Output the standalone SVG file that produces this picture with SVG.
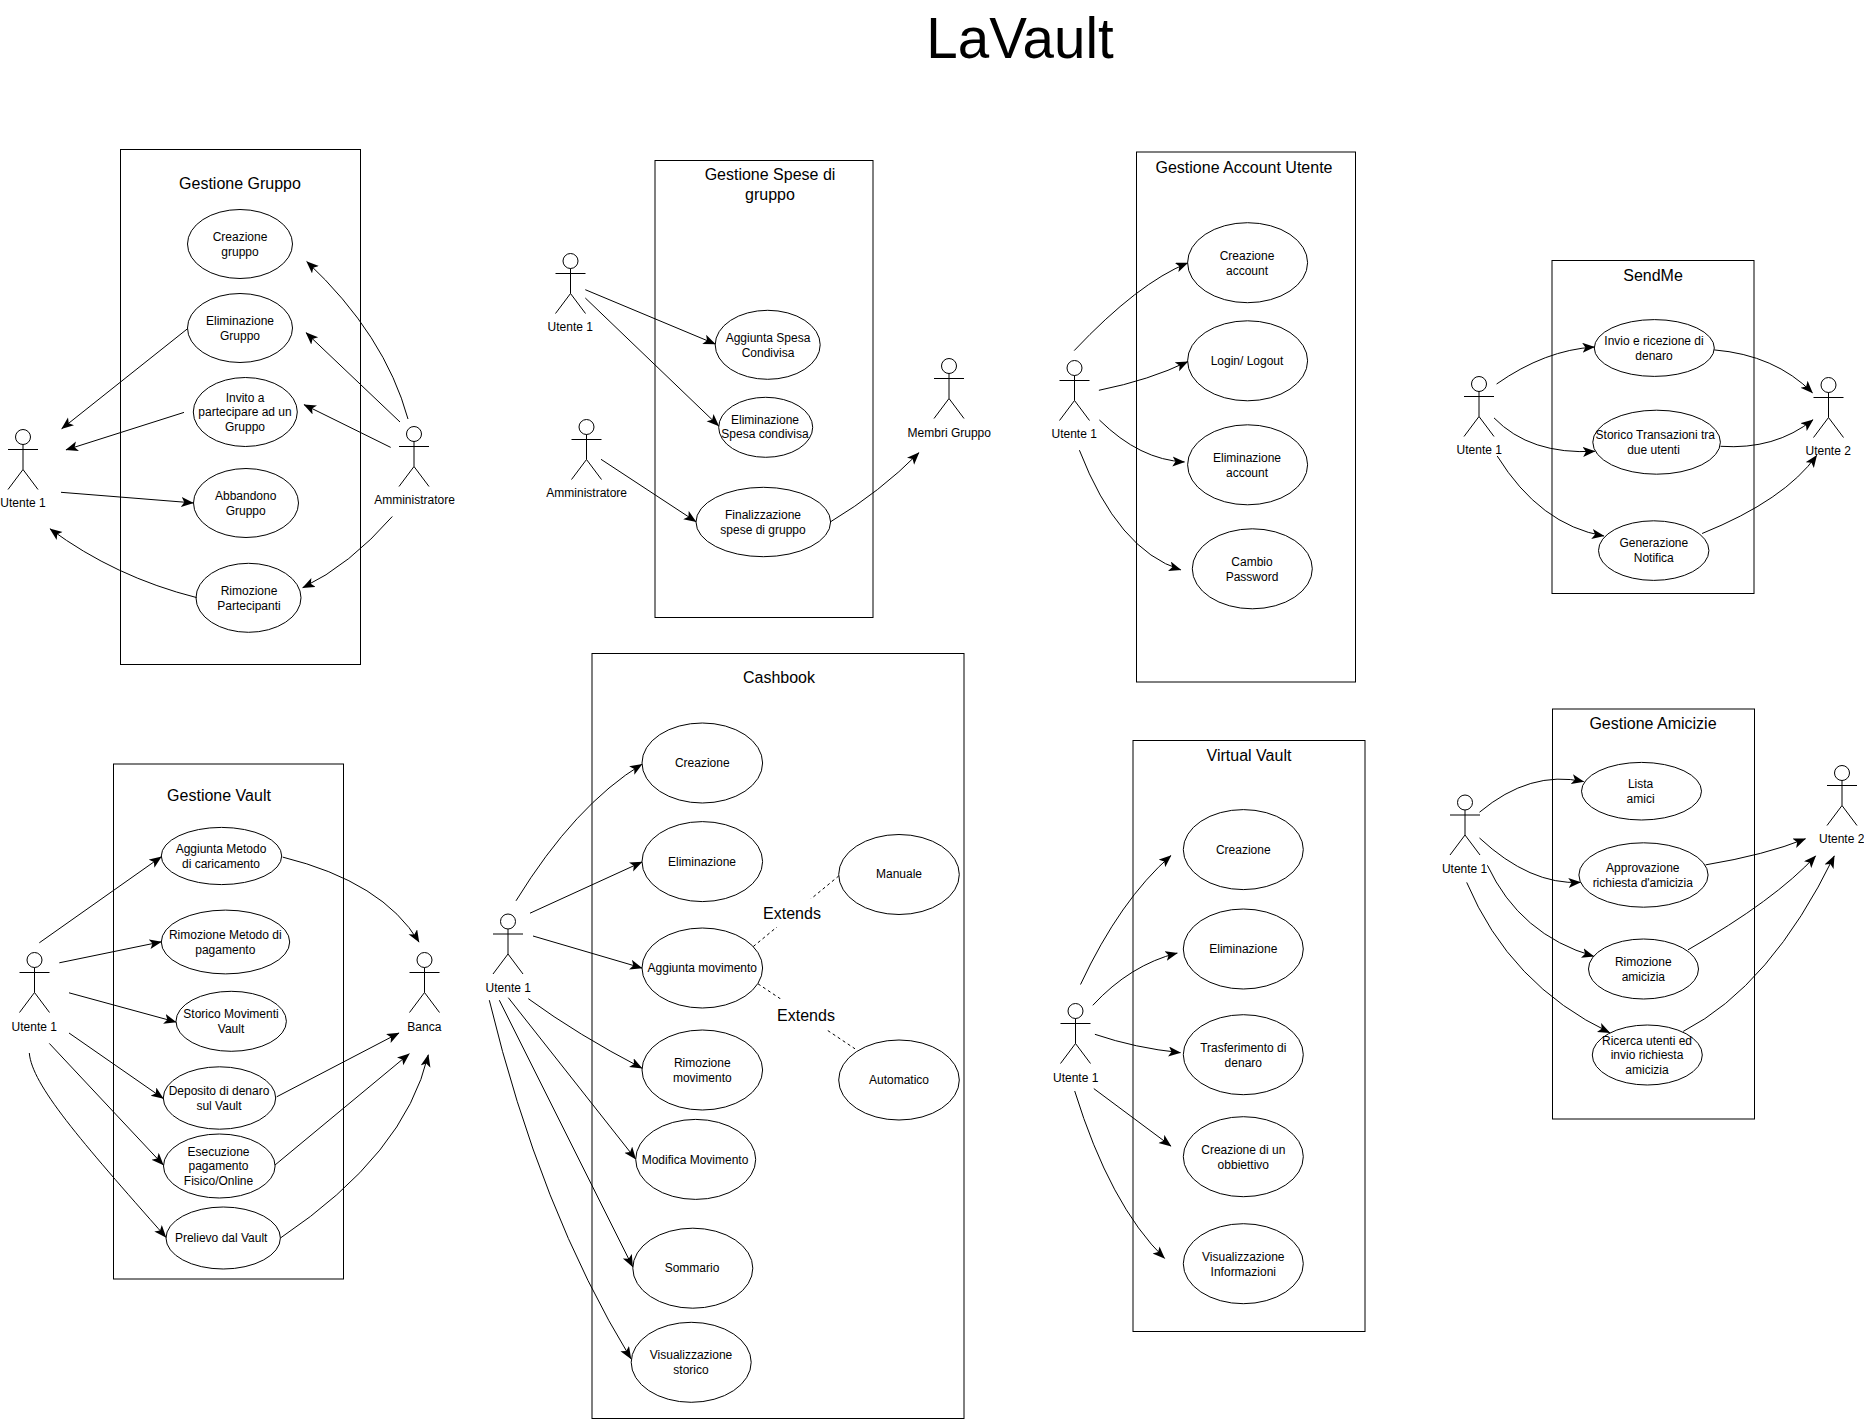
<svg xmlns="http://www.w3.org/2000/svg" width="1864" height="1419" viewBox="0 0 1864 1419">
<style>
text{font-family:"Liberation Sans",Arial,sans-serif;fill:#000;text-anchor:middle}
.t{font-size:12px}.h{font-size:16px}.big{font-size:56.5px}
.b,.u{fill:#fff;stroke:#000;stroke-width:1}
.c,.d{fill:none;stroke:#000;stroke-width:1}
.c{marker-end:url(#arrow)}.d{stroke-dasharray:3 3}
.a{fill:none;stroke:#000;stroke-width:1}
</style>
<defs>
<marker id="arrow" markerUnits="userSpaceOnUse" markerWidth="14" markerHeight="11" refX="12" refY="5" orient="auto"><path d="M0,0L12.5,5L0,10L3,5Z" fill="#000"/></marker>
<g id="actor"><ellipse class="a" cx="15" cy="7.5" rx="7.5" ry="7.5"/><path class="a" d="M15,15V40M0,20H30M0,60L15,40L30,60"/></g>
</defs>
<rect width="1864" height="1419" fill="#fff"/>
<text id="title" class="big" x="1020" y="58">LaVault</text>

<g id="boundaries">
<g id="b-gruppo"><rect class="b" x="120.5" y="149.5" width="240" height="515"/><text class="h" x="240" y="189">Gestione Gruppo</text></g>
<g id="b-spese"><rect class="b" x="655" y="160.5" width="218" height="457"/><text class="h" x="770" y="179.5">Gestione Spese di<tspan x="770" y="199.5">gruppo</tspan></text></g>
<g id="b-account"><rect class="b" x="1136.5" y="152" width="219" height="530"/><text class="h" x="1244" y="173">Gestione Account Utente</text></g>
<g id="b-sendme"><rect class="b" x="1552" y="260.5" width="202" height="333"/><text class="h" x="1653" y="281">SendMe</text></g>
<g id="b-vault"><rect class="b" x="113.5" y="764" width="230" height="515"/><text class="h" x="219" y="801">Gestione Vault</text></g>
<g id="b-cashbook"><rect class="b" x="592" y="653.5" width="372" height="765"/><text class="h" x="779" y="683">Cashbook</text></g>
<g id="b-virtual"><rect class="b" x="1133" y="740.5" width="232" height="591"/><text class="h" x="1249" y="761">Virtual Vault</text></g>
<g id="b-amicizie"><rect class="b" x="1552.5" y="709" width="202" height="410"/><text class="h" x="1653" y="729">Gestione Amicizie</text></g>
</g>

<g id="usecases">
<g id="uc-creazione-gruppo"><ellipse class="u" cx="240" cy="244" rx="52.5" ry="34.5"/><text class="t" x="240" y="240.5">Creazione<tspan x="240" y="255.5">gruppo</tspan></text></g>
<g id="uc-eliminazione-gruppo"><ellipse class="u" cx="240" cy="328" rx="52.5" ry="34.5"/><text class="t" x="240" y="325">Eliminazione<tspan x="240" y="339.8">Gruppo</tspan></text></g>
<g id="uc-invito"><ellipse class="u" cx="245.3" cy="412" rx="52" ry="34.5"/><text class="t" x="245" y="402">Invito a<tspan x="245" y="416">partecipare ad un</tspan><tspan x="245" y="431">Gruppo</tspan></text></g>
<g id="uc-abbandono"><ellipse class="u" cx="246" cy="503" rx="52.5" ry="34.5"/><text class="t" x="245.7" y="499.8">Abbandono<tspan x="245.7" y="514.6">Gruppo</tspan></text></g>
<g id="uc-rimozione-part"><ellipse class="u" cx="248.5" cy="597.8" rx="52.5" ry="34.5"/><text class="t" x="249" y="594.8">Rimozione<tspan x="249" y="609.6">Partecipanti</tspan></text></g>

<g id="uc-aggiunta-spesa"><ellipse class="u" cx="767.7" cy="344.8" rx="52.5" ry="34.5"/><text class="t" x="768" y="342">Aggiunta Spesa<tspan x="768" y="356.8">Condivisa</tspan></text></g>
<g id="uc-elim-spesa"><ellipse class="u" cx="765.7" cy="427.3" rx="47" ry="30"/><text class="t" x="765" y="423.6">Eliminazione<tspan x="765" y="438.4">Spesa condivisa</tspan></text></g>
<g id="uc-finalizzazione"><ellipse class="u" cx="763.3" cy="522" rx="67.3" ry="34.7"/><text class="t" x="763" y="519.3">Finalizzazione<tspan x="763" y="533.8">spese di gruppo</tspan></text></g>

<g id="uc-creazione-account"><ellipse class="u" cx="1247.6" cy="262.7" rx="60" ry="40"/><text class="t" x="1247" y="260.4">Creazione<tspan x="1247" y="275.2">account</tspan></text></g>
<g id="uc-login"><ellipse class="u" cx="1247.6" cy="360.8" rx="60" ry="40"/><text class="t" x="1247" y="365">Login/ Logout</text></g>
<g id="uc-elim-account"><ellipse class="u" cx="1247.6" cy="464.8" rx="60" ry="40"/><text class="t" x="1247" y="462.2">Eliminazione<tspan x="1247" y="477">account</tspan></text></g>
<g id="uc-cambio"><ellipse class="u" cx="1252.3" cy="568.8" rx="60" ry="40"/><text class="t" x="1252" y="566">Cambio<tspan x="1252" y="580.8">Password</tspan></text></g>

<g id="uc-invio"><ellipse class="u" cx="1654.3" cy="348" rx="60" ry="28.4"/><text class="t" x="1654" y="345">Invio e ricezione di<tspan x="1654" y="359.8">denaro</tspan></text></g>
<g id="uc-storico-tr"><ellipse class="u" cx="1656.6" cy="442.2" rx="63.8" ry="32"/><text class="t" x="1655.3" y="439">Storico Transazioni tra<tspan x="1653.5" y="453.8">due utenti</tspan></text></g>
<g id="uc-generazione"><ellipse class="u" cx="1653.7" cy="550.6" rx="55.2" ry="29.8"/><text class="t" x="1653.8" y="547">Generazione<tspan x="1653.8" y="561.8">Notifica</tspan></text></g>

<g id="uc-aggiunta-metodo"><ellipse class="u" cx="221.5" cy="856" rx="60.2" ry="28.6"/><text class="t" x="221" y="853">Aggiunta Metodo<tspan x="221" y="867.8">di caricamento</tspan></text></g>
<g id="uc-rimozione-metodo"><ellipse class="u" cx="225.5" cy="942" rx="64.2" ry="31.9"/><text class="t" x="225.3" y="939">Rimozione Metodo di<tspan x="225.3" y="953.8">pagamento</tspan></text></g>
<g id="uc-storico-mov"><ellipse class="u" cx="231.2" cy="1021.3" rx="55.2" ry="30"/><text class="t" x="231" y="1018">Storico Movimenti<tspan x="231" y="1032.8">Vault</tspan></text></g>
<g id="uc-deposito"><ellipse class="u" cx="219.5" cy="1098" rx="56.2" ry="31.2"/><text class="t" x="219" y="1095">Deposito di denaro<tspan x="219" y="1109.8">sul Vault</tspan></text></g>
<g id="uc-esecuzione"><ellipse class="u" cx="219.3" cy="1166" rx="55.8" ry="32"/><text class="t" x="218.5" y="1156">Esecuzione<tspan x="218.5" y="1170">pagamento</tspan><tspan x="218.5" y="1185">Fisico/Online</tspan></text></g>
<g id="uc-prelievo"><ellipse class="u" cx="223.2" cy="1238" rx="57.2" ry="31"/><text class="t" x="221.2" y="1242">Prelievo dal Vault</text></g>

<g id="uc-cb-creazione"><ellipse class="u" cx="702.3" cy="763" rx="60.3" ry="40"/><text class="t" x="702.3" y="767">Creazione</text></g>
<g id="uc-cb-eliminazione"><ellipse class="u" cx="702.3" cy="861.6" rx="60.3" ry="40"/><text class="t" x="702" y="866">Eliminazione</text></g>
<g id="uc-cb-aggiunta"><ellipse class="u" cx="702.3" cy="968" rx="60.3" ry="40"/><text class="t" x="702.3" y="972.3">Aggiunta movimento</text></g>
<g id="uc-cb-rimozione"><ellipse class="u" cx="702.3" cy="1070" rx="60.3" ry="40"/><text class="t" x="702.3" y="1066.5">Rimozione<tspan x="702.3" y="1081.5">movimento</tspan></text></g>
<g id="uc-cb-modifica"><ellipse class="u" cx="695.7" cy="1159.4" rx="60" ry="40"/><text class="t" x="695" y="1164">Modifica Movimento</text></g>
<g id="uc-cb-sommario"><ellipse class="u" cx="692.8" cy="1268.2" rx="60" ry="40"/><text class="t" x="692" y="1272">Sommario</text></g>
<g id="uc-cb-visual"><ellipse class="u" cx="691.2" cy="1362.3" rx="60" ry="40"/><text class="t" x="691" y="1358.7">Visualizzazione<tspan x="691" y="1373.5">storico</tspan></text></g>
<g id="uc-cb-manuale"><ellipse class="u" cx="899" cy="874.5" rx="60.3" ry="40"/><text class="t" x="899" y="878">Manuale</text></g>
<g id="uc-cb-automatico"><ellipse class="u" cx="899" cy="1080" rx="60.3" ry="40"/><text class="t" x="899" y="1084">Automatico</text></g>

<g id="uc-vv-creazione"><ellipse class="u" cx="1243.3" cy="849.6" rx="60" ry="40"/><text class="t" x="1243.3" y="854">Creazione</text></g>
<g id="uc-vv-eliminazione"><ellipse class="u" cx="1243.3" cy="949" rx="60" ry="40"/><text class="t" x="1243.3" y="953.3">Eliminazione</text></g>
<g id="uc-vv-trasferimento"><ellipse class="u" cx="1243.3" cy="1054.7" rx="60" ry="40"/><text class="t" x="1243.3" y="1052">Trasferimento di<tspan x="1243.3" y="1066.8">denaro</tspan></text></g>
<g id="uc-vv-obiettivo"><ellipse class="u" cx="1243.3" cy="1156.7" rx="60" ry="40"/><text class="t" x="1243.3" y="1154">Creazione di un<tspan x="1243.3" y="1168.8">obbiettivo</tspan></text></g>
<g id="uc-vv-visual"><ellipse class="u" cx="1243.3" cy="1263.7" rx="60" ry="40"/><text class="t" x="1243.3" y="1261">Visualizzazione<tspan x="1243.3" y="1275.8">Informazioni</tspan></text></g>

<g id="uc-lista"><ellipse class="u" cx="1641.5" cy="791.2" rx="60" ry="28.8"/><text class="t" x="1640.6" y="788.3">Lista<tspan x="1640.6" y="803.1">amici</tspan></text></g>
<g id="uc-approvazione"><ellipse class="u" cx="1643.5" cy="875" rx="64.6" ry="32.2"/><text class="t" x="1642.8" y="872">Approvazione<tspan x="1642.8" y="886.8">richiesta d'amicizia</tspan></text></g>
<g id="uc-rimozione-am"><ellipse class="u" cx="1643.5" cy="969" rx="55" ry="30"/><text class="t" x="1643.3" y="966.3">Rimozione<tspan x="1643.3" y="981.1">amicizia</tspan></text></g>
<g id="uc-ricerca"><ellipse class="u" cx="1647.3" cy="1055" rx="55" ry="30"/><text class="t" x="1647" y="1044.7">Ricerca utenti ed<tspan x="1647" y="1059.3">invio richiesta</tspan><tspan x="1647" y="1074">amicizia</tspan></text></g>
</g>

<g id="actors">
<g id="ac-gruppo-utente"><use href="#actor" x="8" y="429.5"/><text class="t" x="23" y="506.8">Utente 1</text></g>
<g id="ac-gruppo-admin"><use href="#actor" x="399" y="426.5"/><text class="t" x="414.5" y="503.6">Amministratore</text></g>
<g id="ac-spese-utente"><use href="#actor" x="555.5" y="253.5"/><text class="t" x="570.3" y="331">Utente 1</text></g>
<g id="ac-spese-admin"><use href="#actor" x="571.5" y="419.5"/><text class="t" x="586.7" y="497">Amministratore</text></g>
<g id="ac-spese-membri"><use href="#actor" x="934" y="358.5"/><text class="t" x="949.3" y="437">Membri Gruppo</text></g>
<g id="ac-account-utente"><use href="#actor" x="1059.5" y="360.5"/><text class="t" x="1074.2" y="438.2">Utente 1</text></g>
<g id="ac-send-u1"><use href="#actor" x="1464" y="376.5"/><text class="t" x="1479.3" y="454.2">Utente 1</text></g>
<g id="ac-send-u2"><use href="#actor" x="1813.5" y="377.5"/><text class="t" x="1828.2" y="455">Utente 2</text></g>
<g id="ac-vault-utente"><use href="#actor" x="19.5" y="952.5"/><text class="t" x="34.3" y="1030.8">Utente 1</text></g>
<g id="ac-vault-banca"><use href="#actor" x="409.5" y="952.5"/><text class="t" x="424.3" y="1030.8">Banca</text></g>
<g id="ac-cash-utente"><use href="#actor" x="493" y="914"/><text class="t" x="508.3" y="992">Utente 1</text></g>
<g id="ac-virtual-utente"><use href="#actor" x="1060.5" y="1003.5"/><text class="t" x="1075.7" y="1082">Utente 1</text></g>
<g id="ac-am-u1"><use href="#actor" x="1450" y="795"/><text class="t" x="1464.6" y="873.3">Utente 1</text></g>
<g id="ac-am-u2"><use href="#actor" x="1827" y="765.5"/><text class="t" x="1841.7" y="843">Utente 2</text></g>
</g>

<g id="connectors">
<path class="c" d="M408,419Q385,335 306.7,261.5"/>
<path class="c" d="M400,422L306,332.7"/>
<path class="c" d="M390.7,447.4L304,404.6"/>
<path class="c" d="M392.3,516.5Q350,565 302.7,587.7"/>
<path class="c" d="M187.3,328.9L61.7,428.8"/>
<path class="c" d="M184,412.4L66,449.9"/>
<path class="c" d="M61,492.3L193.3,502.9"/>
<path class="c" d="M196.7,597.6Q115,577 50,528.8"/>

<path class="c" d="M585.3,289.7L715.3,344"/>
<path class="c" d="M585.3,298L718.7,426"/>
<path class="c" d="M601,459.3L696,521.7"/>
<path class="c" d="M830.7,521.7Q880,492 919,452.7"/>

<path class="c" d="M1074.2,350.6Q1138,283 1187.7,263"/>
<path class="c" d="M1098.9,390.3Q1150,380 1187.7,361.6"/>
<path class="c" d="M1099.4,420Q1140,460 1184.5,461.9"/>
<path class="c" d="M1079.4,450.2Q1118,550 1180.8,569.9"/>

<path class="c" d="M1496.6,384Q1545,350 1594.4,347"/>
<path class="c" d="M1494,417.9Q1530,455 1594.9,451.3"/>
<path class="c" d="M1497.2,456Q1540,525 1603.9,536"/>
<path class="c" d="M1714.2,349.9Q1775,355 1812.5,392.8"/>
<path class="c" d="M1720.5,446.3Q1775,450 1813,419.7"/>
<path class="c" d="M1702.1,533.5Q1785,500 1816.7,455.3"/>

<path class="c" d="M39.3,942.8L161.3,856.7"/>
<path class="c" d="M59.3,962.8L161.3,941.8"/>
<path class="c" d="M69,992.8L176,1022"/>
<path class="c" d="M69,1033L163.3,1098.5"/>
<path class="c" d="M49.3,1043.4L163.3,1165"/>
<path class="c" d="M29.3,1053C32,1085 80,1140 166,1237.3"/>
<path class="c" d="M282.7,857.1Q383,882 419,942.1"/>
<path class="c" d="M276.7,1096.8L399,1033"/>
<path class="c" d="M275,1165L409.3,1053.7"/>
<path class="c" d="M281,1237.6Q405,1154 428.3,1054.8"/>

<path class="c" d="M516,900.8Q575,805 642,764.2"/>
<path class="c" d="M530,913.2L642,862"/>
<path class="c" d="M533,936L642,968"/>
<path class="c" d="M528.3,998.7Q578,1035 642,1068.2"/>
<path class="c" d="M508.3,997.7L635.7,1159.1"/>
<path class="c" d="M499.3,1000.2L632.7,1266.9"/>
<path class="c" d="M489.3,1000.2Q540,1210 631,1358.8"/>
<path class="d" d="M753.3,946.5L838.7,876"/>
<path class="d" d="M758,983.8L855,1048.8"/>

<path class="c" d="M1080.5,984.5Q1120,900 1171,855.5"/>
<path class="c" d="M1092.8,1005.3Q1130,965 1177.3,953"/>
<path class="c" d="M1094.9,1034.3Q1135,1048 1180.5,1052.7"/>
<path class="c" d="M1093.8,1088.6L1171,1146.1"/>
<path class="c" d="M1074.7,1091Q1110,1205 1164.6,1258.4"/>

<path class="c" d="M1479.5,812.2Q1530,770 1583.7,781.6"/>
<path class="c" d="M1479.5,838Q1530,885 1580.5,882.4"/>
<path class="c" d="M1487.4,865.3Q1520,935 1593.8,956.3"/>
<path class="c" d="M1466.7,882.4Q1510,985 1609.8,1032.7"/>
<path class="c" d="M1705.5,864.9Q1765,855 1805.5,838.8"/>
<path class="c" d="M1688,949.8Q1775,900 1815.7,855.9"/>
<path class="c" d="M1683.2,1031.4Q1771,986 1834.3,855.9"/>
</g>

<g id="labels">
<g id="lbl-ext1"><rect x="763" y="898.5" width="58" height="28.5" fill="#fff"/><text class="h" x="792" y="918.5">Extends</text></g>
<g id="lbl-ext2"><rect x="777" y="999" width="58" height="31" fill="#fff"/><text class="h" x="806" y="1020.5">Extends</text></g>
</g>
</svg>
